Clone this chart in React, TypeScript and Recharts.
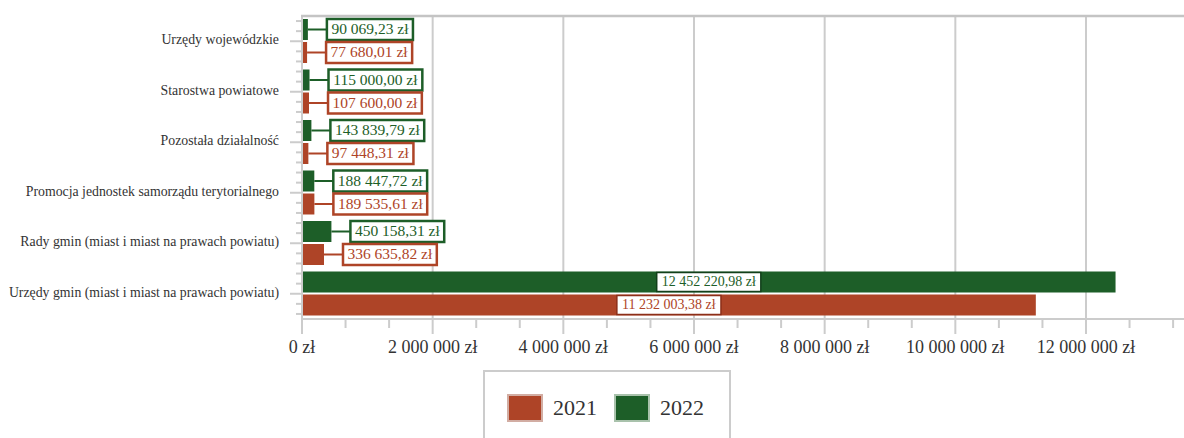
import React from "react";
import {
  Bar,
  BarChart,
  CartesianGrid,
  LabelList,
  XAxis,
  YAxis,
} from "recharts";

const categories = [
  "Urzędy wojewódzkie",
  "Starostwa powiatowe",
  "Pozostała działalność",
  "Promocja jednostek samorządu terytorialnego",
  "Rady gmin (miast i miast na prawach powiatu)",
  "Urzędy gmin (miast i miast na prawach powiatu)",
];

const values2021 = [77680.01, 107600.0, 97448.31, 189535.61, 336635.82, 11232003.38];
const values2022 = [90069.23, 115000.0, 143839.79, 188447.72, 450158.31, 12452220.98];

const majorTicks = [0, 2000000, 4000000, 6000000, 8000000, 10000000, 12000000];

const RED = "#AE4427";
const GREEN = "#1D5E28";
const RED_DARK = "#8C2E18";
const GREEN_DARK = "#123F1A";
const GRID = "#cccccc";
const FONT = "Liberation Serif";

const data = categories.map((name, i) => ({
  name,
  y2021: values2021[i],
  y2022: values2022[i],
}));

// minor ticks: two between every labelled one
const allTicks: number[] = [];
for (let i = 0; i <= 20; i++) allTicks.push((i * 2000000) / 3);

const CHART_W = 1184;
const CHART_H = 438;
const PLOT_TOP = 16;
const PLOT_LEFT = 302;
const PLOT_BOTTOM = 319;
const BAND = (PLOT_BOTTOM - PLOT_TOP) / categories.length;

function groupThousands(s: string) {
  return s.replace(/\B(?=(\d{3})+(?!\d))/g, " ");
}

function formatMoney(v: number) {
  const [int, dec] = v.toFixed(2).split(".");
  return `${groupThousands(int)},${dec} zł`;
}

function formatAxis(v: number) {
  return `${groupThousands(String(Math.round(v)))} zł`;
}

// rough text width for a Times-like face
function textWidth(s: string, size: number) {
  let w = 0;
  for (const ch of s) {
    if (/\d/.test(ch)) w += 0.5;
    else if (ch === " " || ch === ",") w += 0.25;
    else if (ch === "z") w += 0.444;
    else if (ch === "ł") w += 0.278;
    else w += 0.5;
  }
  return w * size;
}

function makeLabel(color: string, dark: string) {
  return (props: any) => {
    const { x, y, width, height, value } = props;
    const text = formatMoney(Number(value));
    const cy = y + height / 2;
    if (Number(value) > 5000000) {
      const fs = 14;
      const bw = textWidth(text, fs) + 10;
      const bh = 19;
      const cx = x + width / 2;
      return (
        <g>
          <rect x={cx - bw / 2} y={cy - bh / 2} width={bw} height={bh} fill="#fff" stroke={dark} strokeWidth={1.5} />
          <text x={cx} y={cy + 1} textAnchor="middle" dominantBaseline="middle" style={{ fontFamily: FONT }} fontSize={fs} fill={color}>
            {text}
          </text>
        </g>
      );
    }
    const fs = 15.5;
    const bw = textWidth(text, fs) + 9;
    const bh = height;
    const bx = x + width + 19;
    return (
      <g>
        <line x1={x + width} y1={cy} x2={bx} y2={cy} stroke={color} strokeWidth={2} />
        <rect x={bx} y={cy - bh / 2} width={bw} height={bh} fill="#fff" stroke={color} strokeWidth={2.5} />
        <text x={bx + bw / 2} y={cy + 1} textAnchor="middle" dominantBaseline="middle" style={{ fontFamily: FONT }} fontSize={fs} fill={color}>
          {text}
        </text>
      </g>
    );
  };
}

function XTick(props: any) {
  const { x, y, payload, index } = props;
  const major = index % 3 === 0;
  return (
    <g>
      <line x1={x} y1={y} x2={x} y2={y + (major ? 15 : 9)} stroke={GRID} strokeWidth={2} />
      {major && (
        <text x={x} y={y + 30} textAnchor="middle" dominantBaseline="middle" style={{ fontFamily: FONT }} fontSize={18} fill="#333">
          {formatAxis(payload.value)}
        </text>
      )}
    </g>
  );
}

function YTick(props: any) {
  const { x, y, payload, index } = props;
  const minors = [-2, -1, 1, 2].map((k) => y + (k * BAND) / 5);
  // the first category tick also draws the plot's top frame line
  const topY = y - BAND / 2;
  return (
    <g>
      {index === 0 && (
        <line x1={x - 1} y1={topY} x2={CHART_W} y2={topY} stroke="#c4c4c4" strokeWidth={2.5} />
      )}
      {minors.map((my, i) => (
        <line key={i} x1={x - 6} y1={my} x2={x} y2={my} stroke={GRID} strokeWidth={2} />
      ))}
      <line x1={x - 12} y1={y} x2={x} y2={y} stroke={GRID} strokeWidth={2} />
      <text x={x - 23} y={y} textAnchor="end" dominantBaseline="middle" style={{ fontFamily: FONT }} fontSize={13.8} fill="#333">
        {payload.value}
      </text>
    </g>
  );
}

function LegendBox() {
  const items = [
    { label: "2021", color: RED, border: "#D2ADA3" },
    { label: "2022", color: GREEN, border: "#A9C2AC" },
  ];
  return (
    <div
      style={{
        position: "absolute",
        left: 483,
        top: 370,
        width: 248,
        height: 80,
        border: `2px solid ${GRID}`,
        boxSizing: "border-box",
        fontFamily: FONT,
        fontSize: 22,
        color: "#333",
      }}
    >
      {items.map((it, i) => (
        <div
          key={it.label}
          style={{ position: "absolute", left: 22, top: 22, marginLeft: i * 107, display: "flex", alignItems: "center" }}
        >
          <div
            style={{
              width: 32,
              height: 24,
              background: it.color,
              border: `2px solid ${it.border}`,
              marginRight: 10,
            }}
          />
          <span>{it.label}</span>
        </div>
      ))}
    </div>
  );
}

export default function App() {
  return (
    <div style={{ position: "absolute", left: 0, top: 0, width: CHART_W, height: CHART_H, background: "#fff", overflow: "hidden" }}>
      <BarChart
        width={CHART_W}
        height={CHART_H}
        data={data}
        layout="vertical"
        margin={{ top: PLOT_TOP, right: 0, left: 0, bottom: 0 }}
        barSize={21}
        barGap={2}
      >
        <CartesianGrid
          horizontal={false}
          vertical
          verticalValues={majorTicks}
          stroke={GRID}
          strokeWidth={2}
        />
        <XAxis
          type="number"
          domain={[0, 13500000]}
          ticks={allTicks}
          interval={0}
          tick={<XTick />}
          tickLine={false}
          tickSize={0}
          tickMargin={0}
          axisLine={{ stroke: GRID, strokeWidth: 2 }}
          height={CHART_H - PLOT_BOTTOM}
          allowDataOverflow
        />
        <YAxis
          type="category"
          dataKey="name"
          width={PLOT_LEFT}
          tick={<YTick />}
          tickLine={false}
          tickSize={0}
          tickMargin={0}
          axisLine={{ stroke: GRID, strokeWidth: 2 }}
          interval={0}
        />
        <Bar dataKey="y2022" fill={GREEN} isAnimationActive={false}>
          <LabelList dataKey="y2022" content={makeLabel(GREEN, GREEN_DARK)} />
        </Bar>
        <Bar dataKey="y2021" fill={RED} isAnimationActive={false}>
          <LabelList dataKey="y2021" content={makeLabel(RED, RED_DARK)} />
        </Bar>
      </BarChart>
      <LegendBox />
    </div>
  );
}
